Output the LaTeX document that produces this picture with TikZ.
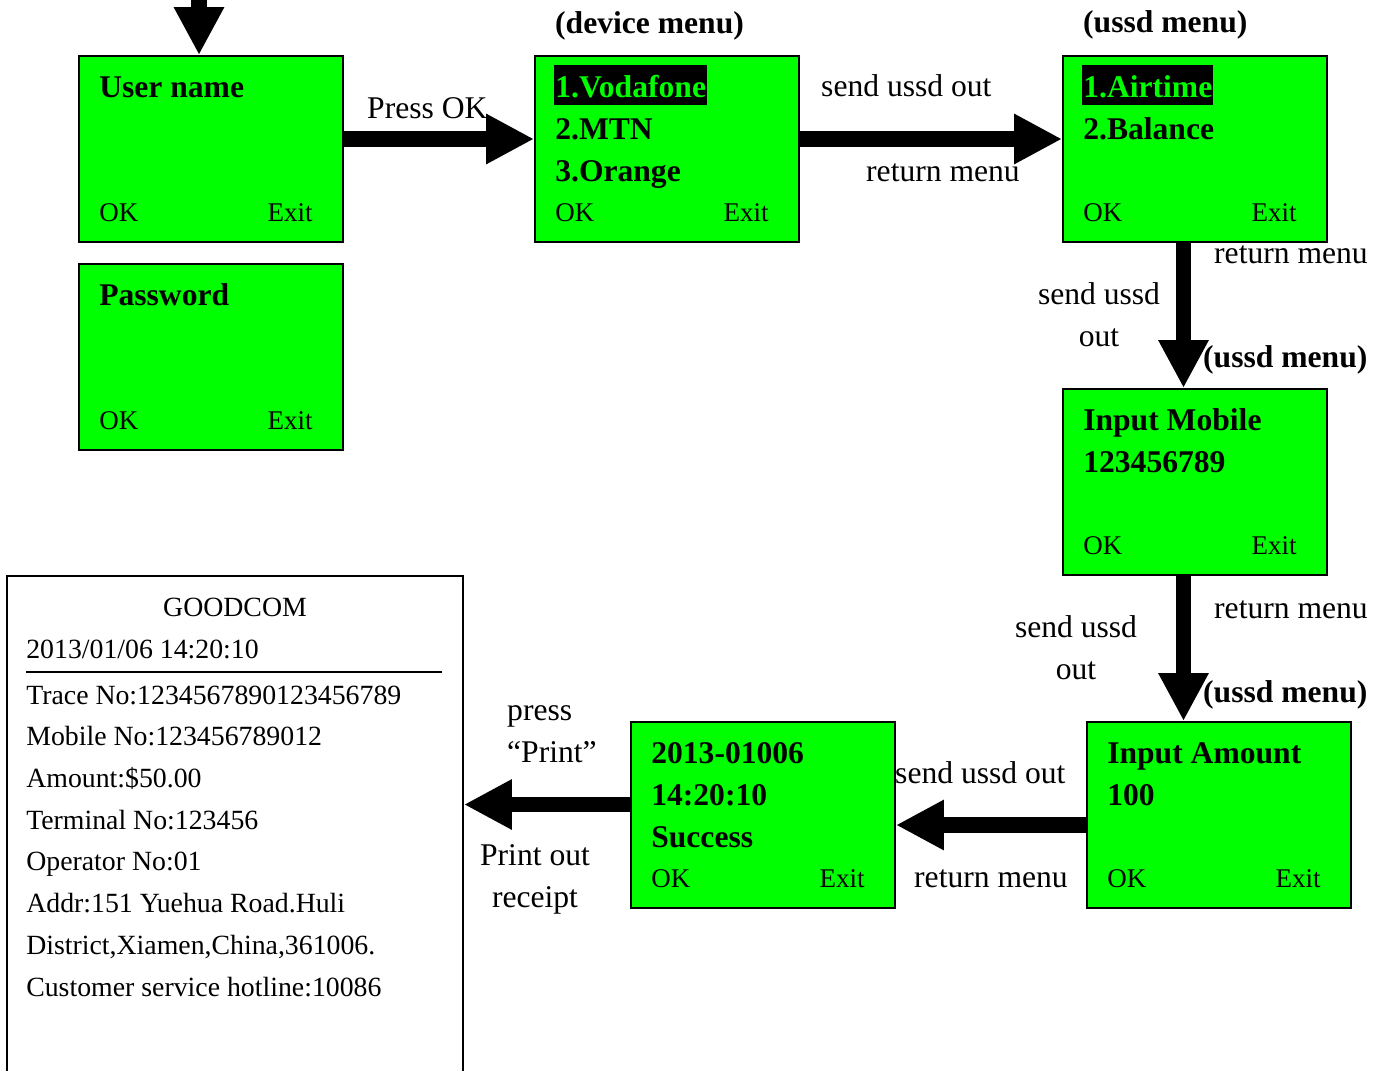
\documentclass[tikz,border=0pt]{standalone}
\usepackage{fontspec}
\setmainfont{Liberation Serif}
\usetikzlibrary{arrows.meta}

\definecolor{lcdgreen}{RGB}{0,255,0}
\newcommand\labelsize{\fontsize{31.6}{41.5}\selectfont}
\newcommand\keysize{\fontsize{27}{32}\selectfont}
\newcommand\slipsize{\fontsize{27.8}{41.7}\selectfont}

\tikzset{
  screen/.style={draw, line width=1.8pt, fill=lcdgreen, minimum width=264pt, minimum height=186pt, inner sep=0pt},
  lcdline/.style={anchor=base west, inner sep=0pt, font=\labelsize\bfseries},
  pick/.style={lcdline, fill=black, text=lcdgreen, inner xsep=1pt, text height=32pt, text depth=8pt},
  softkey/.style={anchor=base west, inner sep=0pt, font=\keysize},
  lbl/.style={anchor=base west, inner sep=0pt, font=\labelsize},
  menutag/.style={lbl, font=\labelsize\bfseries},
  slipline/.style={anchor=base west, inner sep=0pt, font=\slipsize},
  bigarrow/.style={line width=15.5pt, -{Triangle[length=48pt,width=47pt]}},
}

\begin{document}
\begin{tikzpicture}[x=1pt, y=-1pt]
\useasboundingbox (0,0) rectangle (1388,1070);

% screens
\node[screen] (user) at (211,149) {};
\node[screen] (pass) at (211,357) {};
\node[screen] (device) at (667,149) {};
\node[screen] (ussd) at (1195,149) {};
\node[screen] (mobile) at (1195,482) {};
\node[screen] (amount) at (1219,815) {};
\node[screen] (success) at (763,815) {};
\node[draw, line width=1.8pt, minimum width=456pt, minimum height=502pt, inner sep=0pt] (slip) at (235,827) {};

% screen contents
\node[lcdline] at ([shift={(21,42)}]user.north west) {User name};
\node[lcdline] at ([shift={(21,42)}]pass.north west) {Password};
\node[pick] at ([shift={(20,42)}]device.north west) {1.Vodafone};
\node[lcdline] at ([shift={(21,84)}]device.north west) {2.MTN};
\node[lcdline] at ([shift={(21,126)}]device.north west) {3.Orange};
\node[pick] at ([shift={(20,42)}]ussd.north west) {1.Airtime};
\node[lcdline] at ([shift={(21,84)}]ussd.north west) {2.Balance};
\node[lcdline] at ([shift={(21,42)}]mobile.north west) {Input Mobile};
\node[lcdline] at ([shift={(21,84)}]mobile.north west) {123456789};
\node[lcdline] at ([shift={(21,42)}]amount.north west) {Input Amount};
\node[lcdline] at ([shift={(21,84)}]amount.north west) {100};
\node[lcdline] at ([shift={(21,42)}]success.north west) {2013-01006};
\node[lcdline] at ([shift={(21,84)}]success.north west) {14:20:10};
\node[lcdline] at ([shift={(21,126)}]success.north west) {Success};
\foreach \s in {user,pass,device,ussd,mobile,amount,success}{
  \node[softkey] at ([shift={(21,166)}]\s.north west) {OK};
  \node[softkey, anchor=base east] at ([shift={(-31,166)}]\s.north east) {Exit};
}

% arrows
\coordinate (entry) at (199,-20);
\draw[bigarrow] (entry) -- (entry |- user.north);
\draw[bigarrow] ([yshift=10pt]user.east) -- ([yshift=10pt]device.west);
\draw[bigarrow] ([yshift=10pt]device.east) -- ([yshift=10pt]ussd.west);
\draw[bigarrow] ([xshift=-11.5pt]ussd.south) -- ([xshift=-11.5pt]mobile.north);
\draw[bigarrow] ([xshift=-11.5pt]mobile.south) -- ([xshift=-35.5pt]amount.north);
\draw[bigarrow] ([yshift=-10pt]amount.west) -- ([yshift=-10pt]success.east);
\coordinate (printrow) at ([yshift=10.5pt]success.west);
\draw[bigarrow] (printrow) -- (printrow -| slip.east);

% labels
\node[lbl] at (367,118) {Press OK};
\node[menutag] at (555,34) {(device menu)};
\node[lbl] at (821,97) {send ussd out};
\node[lbl] at (866,181) {return menu};
\node[menutag] at (1083,33) {(ussd menu)};
\node[lbl] at (1214,263) {return menu};
\node[lbl, anchor=base, align=center] at (1099,346) {send ussd\\out};
\node[menutag] at (1203,367) {(ussd menu)};
\node[lbl] at (1214,618) {return menu};
\node[lbl, anchor=base, align=center] at (1076,679) {send ussd\\out};
\node[menutag] at (1203,702) {(ussd menu)};
\node[lbl] at (895,783) {send ussd out};
\node[lbl] at (914,887) {return menu};
\node[lbl, align=left] at (507,762) {press\\``Print''};
\node[lbl, anchor=base, align=center] at (535,907) {Print out\\receipt};

% receipt
\node[anchor=base, inner sep=0pt, font=\slipsize] at ([shift={(0,41)}]slip.north) {GOODCOM};
\node[slipline] at ([shift={(20,83)}]slip.north west) {2013/01/06 14:20:10};
\draw[line width=2pt] ([shift={(20,97)}]slip.north west) -- ([shift={(436,97)}]slip.north west);
\foreach \t [count=\i from 0] in {Trace No:1234567890123456789, Mobile No:123456789012, Amount:\$50.00, Terminal No:123456, Operator No:01, Addr:151 Yuehua Road.Huli, {District,Xiamen,China,361006.}, Customer service hotline:10086}
  \node[slipline] at ([shift={(20,129+41.7*\i)}]slip.north west) {\t};
\end{tikzpicture}
\end{document}
